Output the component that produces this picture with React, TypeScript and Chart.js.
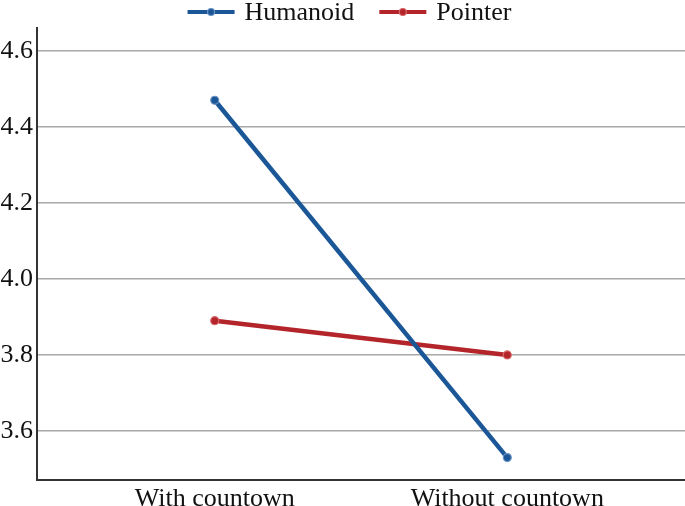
import React, { useEffect, useRef } from "react";
import { Chart, registerables } from "chart.js";

Chart.register(...registerables);

const categories = ["With countown", "Without countown"];
const humanoid = [4.47, 3.53];
const pointer = [3.89, 3.8];
const yTicks = [3.6, 3.8, 4.0, 4.2, 4.4, 4.6];

const BLUE = "#1b5797";
const BLUE_M = "#6d94c4";
const RED = "#b3252a";
const RED_M = "#d8686b";
const FONT = "'Liberation Serif', 'Times New Roman', serif";

const legendPlugin = {
  id: "customLegend",
  afterDraw(chart: any) {
    const ctx = chart.ctx as CanvasRenderingContext2D;
    const ds = chart.data.datasets;
    ctx.save();
    ctx.font = `26px ${FONT}`;
    ctx.textBaseline = "middle";
    const lineW = 47;
    const gapIcon = 10;
    const gapItem = 25;
    const widths = ds.map((d: any) => lineW + gapIcon + ctx.measureText(d.label).width);
    const total = widths.reduce((a: number, b: number) => a + b, 0) + gapItem * (ds.length - 1);
    let x = (chart.width - total) / 2 + 7;
    const y = 12;
    ds.forEach((d: any, i: number) => {
      ctx.strokeStyle = d.borderColor;
      ctx.lineWidth = 4;
      ctx.beginPath();
      ctx.moveTo(x, y);
      ctx.lineTo(x + lineW, y);
      ctx.stroke();
      ctx.beginPath();
      ctx.arc(x + lineW / 2, y, 3.5, 0, Math.PI * 2);
      ctx.fillStyle = d.borderColor;
      ctx.fill();
      ctx.lineWidth = 1.2;
      ctx.strokeStyle = d.pointBorderColor;
      ctx.stroke();
      ctx.fillStyle = "#111";
      ctx.fillText(d.label, x + lineW + gapIcon, y + 1);
      x += widths[i] + gapItem;
    });
    ctx.restore();
  },
};

export default function App() {
  const ref = useRef<HTMLCanvasElement>(null);
  useEffect(() => {
    document.body.style.margin = "0";
    const chart = new Chart(ref.current!, {
      type: "line",
      data: {
        datasets: [
          {
            label: "Humanoid",
            data: humanoid.map((y, i) => ({ x: i, y })),
            borderColor: BLUE,
            backgroundColor: BLUE,
            borderWidth: 4.5,
            pointRadius: 4,
            pointBorderWidth: 1.2,
            pointBorderColor: BLUE_M,
            pointBackgroundColor: BLUE,
          },
          {
            label: "Pointer",
            data: pointer.map((y, i) => ({ x: i, y })),
            borderColor: RED,
            backgroundColor: RED,
            borderWidth: 4.5,
            pointRadius: 4,
            pointBorderWidth: 1.2,
            pointBorderColor: RED_M,
            pointBackgroundColor: RED,
          },
        ],
      },
      plugins: [legendPlugin],
      options: {
        animation: false,
        responsive: false,
        layout: { autoPadding: false, padding: { left: 0, right: 0, top: 28, bottom: 0 } },
        plugins: {
          tooltip: { enabled: false },
          legend: { display: false },
        },
        scales: {
          x: {
            type: "linear",
            min: -0.6075,
            max: 1.6075,
            afterBuildTicks: (s: any) => {
              s.ticks = categories.map((_, i) => ({ value: i }));
            },
            afterFit: (s: any) => {
              s.height = 26;
              s.paddingLeft = 0;
              s.paddingRight = 0;
            },
            ticks: {
              callback: (v: any) => categories[v as number] ?? "",
              font: { family: FONT, size: 26 },
              color: "#111",
              padding: 4,
              maxRotation: 0,
              autoSkip: false,
            },
            grid: { display: false, drawTicks: false },
            border: { display: true, color: "#333", width: 2 },
          },
          y: {
            type: "linear",
            min: 3.471,
            max: 4.66,
            afterBuildTicks: (s: any) => {
              s.ticks = yTicks.map((v) => ({ value: v }));
            },
            afterFit: (s: any) => {
              s.width = 37;
              s.paddingTop = 0;
              s.paddingBottom = 0;
            },
            ticks: {
              callback: (v: any) => Number(v).toFixed(1),
              font: { family: FONT, size: 26 },
              color: "#111",
              padding: 4,
            },
            grid: { color: "#a8a8a8", lineWidth: 1.5, drawTicks: false },
            border: { display: true, color: "#333", width: 2 },
          },
        },
      },
    });
    return () => chart.destroy();
  }, []);
  return <canvas ref={ref} width={685} height={506} style={{ display: "block" }} />;
}
